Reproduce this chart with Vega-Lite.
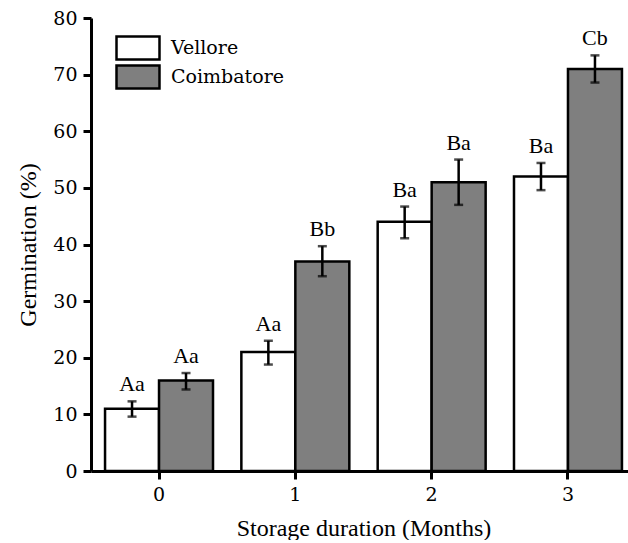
{
  "$schema": "https://vega.github.io/schema/vega-lite/v6.json",
  "width": 545,
  "height": 453,
  "padding": {"left": 16, "top": 9, "right": 0, "bottom": 0},
  "background": "white",
  "config": {
    "view": {"stroke": null},
    "font": "Liberation Serif",
    "axis": {"labelFont": "DejaVu Serif", "titleFont": "Liberation Serif", "labelColor": "black", "titleColor": "black", "titleFontWeight": "normal", "domainColor": "black", "tickColor": "black", "domainWidth": 3, "tickWidth": 3, "tickSize": 8, "grid": false, "labelFontSize": 19, "titleFontSize": 24},
    "legend": {"labelColor": "black", "labelFontSize": 19}
  },
  "data": {
    "values": [
      {"month": "0", "site": "Vellore", "germ": 11, "lo": 9.6, "hi": 12.3, "label": "Aa"},
      {"month": "0", "site": "Coimbatore", "germ": 16, "lo": 14.4, "hi": 17.3, "label": "Aa"},
      {"month": "1", "site": "Vellore", "germ": 21, "lo": 18.8, "hi": 23.0, "label": "Aa"},
      {"month": "1", "site": "Coimbatore", "germ": 37, "lo": 34.4, "hi": 39.7, "label": "Bb"},
      {"month": "2", "site": "Vellore", "germ": 44, "lo": 41.1, "hi": 46.7, "label": "Ba"},
      {"month": "2", "site": "Coimbatore", "germ": 51, "lo": 47.0, "hi": 55.0, "label": "Ba"},
      {"month": "3", "site": "Vellore", "germ": 52, "lo": 49.6, "hi": 54.4, "label": "Ba"},
      {"month": "3", "site": "Coimbatore", "germ": 71, "lo": 68.6, "hi": 73.4, "label": "Cb"}
    ]
  },
  "encoding": {
    "x": {"field": "month", "type": "nominal", "title": "Storage duration (Months)",
          "scale": {"paddingInner": 0.208, "paddingOuter": 0.103},
          "axis": {"labelAngle": 0, "labelPadding": 6, "titlePadding": 12}},
    "xOffset": {"field": "site", "type": "nominal", "sort": ["Vellore", "Coimbatore"], "scale": {"paddingInner": 0, "paddingOuter": 0}}
  },
  "layer": [
    {
      "mark": {"type": "bar", "stroke": "black", "strokeWidth": 2.5},
      "encoding": {
        "y": {"field": "germ", "type": "quantitative", "title": "Germination (%)",
              "scale": {"domain": [0, 80]},
              "axis": {"values": [0, 10, 20, 30, 40, 50, 60, 70, 80], "labelPadding": 6, "titlePadding": 12}},
        "fill": {"field": "site", "type": "nominal",
                 "scale": {"domain": ["Vellore", "Coimbatore"], "range": ["white", "#7f7f7f"]},
                 "legend": {"title": null, "orient": "none", "legendX": 35, "legendY": 18,
                            "symbolType": "M-2,-1.06H2V1.06H-2Z", "symbolSize": 462,
                            "symbolStrokeColor": "black", "symbolStrokeWidth": 2.5, "symbolOpacity": 1,
                            "rowPadding": -15, "labelOffset": 21, "labelFontSize": 19, "labelFont": "DejaVu Serif"}}
      }
    },
    {
      "mark": {"type": "rule", "color": "black", "strokeWidth": 2.5},
      "encoding": {"y": {"field": "lo", "type": "quantitative"}, "y2": {"field": "hi"}}
    },
    {
      "mark": {"type": "tick", "color": "black", "thickness": 2.5, "size": 9},
      "encoding": {"y": {"field": "lo", "type": "quantitative"}}
    },
    {
      "mark": {"type": "tick", "color": "black", "thickness": 2.5, "size": 9},
      "encoding": {"y": {"field": "hi", "type": "quantitative"}}
    },
    {
      "mark": {"type": "text", "baseline": "bottom", "dy": -5, "fontSize": 22, "color": "black", "font": "Liberation Serif"},
      "encoding": {"y": {"field": "hi", "type": "quantitative"}, "text": {"field": "label"}}
    }
  ]
}
